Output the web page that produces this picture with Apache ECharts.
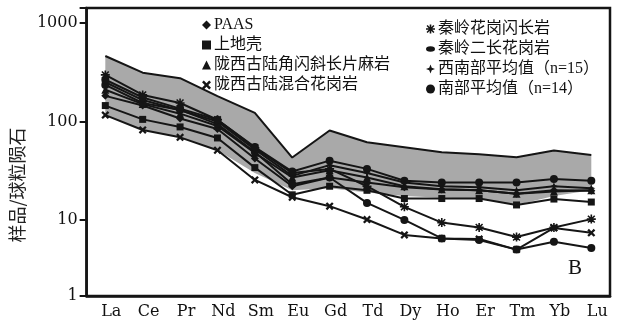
<!DOCTYPE html>
<html>
<head>
<meta charset="utf-8">
<script src="https://cdn.jsdelivr.net/npm/echarts@6/dist/echarts.min.js"></script>
<style>html,body{margin:0;padding:0;background:#fff;}#c{width:631px;height:326px;}</style>
</head>
<body>
<div id="c"></div>
<script>
const categories = ['La','Ce','Pr','Nd','Sm','Eu','Gd','Td','Dy','Ho','Er','Tm','Yb','Lu'];
const yTickLabels = ['1','10','100','1000'];
const paas         = [182,145,107,84,42,22,27,24,21.5,20.4,20,18.5,20,19.8];
const upperCrust   = [145,105,88,68,34,18,22,20,16.5,16.5,16.5,14.2,16.3,15.2];
const gneiss       = [210,150,120,90,48,27,32,27,22,20.5,20,18.5,19.5,20];
const migmatite    = [116,82,69,51,25.5,17,13.8,10.1,7.05,6.5,6.4,5,8.3,7.4];
const granodiorite = [297,186,154,104,54,30,33,22,13.6,9.4,8.4,6.7,8.4,10.2];
const monzogranite = [235,154,131,94,49,23,27,14.9,10,6.5,6.26,5,6,5.2];
const swMean       = [250,165,130,100,52,28,36,30,24,22,21.5,20,22,21];
const sMean        = [265,175,135,104,55,31,40,33,25,24,24,24,26,25];
const bandUpper    = [462,313,275,181,122,43,81,61.5,54.7,48.7,46.4,43.3,50.6,45.7];
const bandLower    = [116,82,69,51,30,20,21,19,17.5,16.8,16.5,14.2,17.5,20];

const X_PATH = 'path://M0,2 L2,0 L5,3 L8,0 L10,2 L7,5 L10,8 L8,10 L5,7 L2,10 L0,8 L3,5 Z';
const AST_PATH = 'path://M4.1,0 L5.9,0 L5.9,4.1 L10,4.1 L10,5.9 L5.9,5.9 L5.9,10 L4.1,10 L4.1,5.9 L0,5.9 L0,4.1 L4.1,4.1 Z M0.6,1.8 L1.8,0.6 L5,3.8 L8.2,0.6 L9.4,1.8 L6.2,5 L9.4,8.2 L8.2,9.4 L5,6.2 L1.8,9.4 L0.6,8.2 L3.8,5 Z';
const STAR4_PATH = 'path://M5,0 L6.4,3.6 L10,5 L6.4,6.4 L5,10 L3.6,6.4 L0,5 L3.6,3.6 Z';
const ELL_PATH = 'path://M0,3 A5,3 0 1,0 10,3 A5,3 0 1,0 0,3 Z';

const INK = '#151515';
const FONT = "'Liberation Serif','Noto Sans CJK SC',serif";

const defs = [
  {name:'PAAS', data:paas, symbol:'diamond', size:8},
  {name:'上地壳', data:upperCrust, symbol:'rect', size:7},
  {name:'陇西古陆角闪斜长片麻岩', data:gneiss, symbol:'triangle', size:8},
  {name:'陇西古陆混合花岗岩', data:migmatite, symbol:X_PATH, size:8},
  {name:'秦岭花岗闪长岩', data:granodiorite, symbol:AST_PATH, size:9},
  {name:'秦岭二长花岗岩', data:monzogranite, symbol:'circle', size:8},
  {name:'西南部平均值（n=15）', data:swMean, symbol:STAR4_PATH, size:8},
  {name:'南部平均值（n=14）', data:sMean, symbol:'circle', size:8}
];

const series = [
  {name:'band_lower', type:'line', stack:'band', data:bandLower, symbol:'none',
   lineStyle:{width:0, opacity:0}, silent:true, z:1},
  {name:'band', type:'line', stack:'band', data:bandUpper.map((v,i)=>v-bandLower[i]), symbol:'none',
   lineStyle:{color:INK, width:2}, areaStyle:{color:'#a9a9a9', opacity:1}, silent:true, z:1}
];
defs.forEach(d => series.push({
  name:d.name, type:'line', data:d.data, symbol:d.symbol, symbolSize:d.size,
  lineStyle:{color:INK, width:2}, itemStyle:{color:INK}, z:3
}));

const legendIcon = {'PAAS':'diamond','上地壳':'rect','陇西古陆角闪斜长片麻岩':'triangle','陇西古陆混合花岗岩':X_PATH,
  '秦岭花岗闪长岩':AST_PATH,'秦岭二长花岗岩':ELL_PATH,'西南部平均值（n=15）':STAR4_PATH,'南部平均值（n=14）':'circle'};
function legendData(names){ return names.map(n => ({name:n, icon:legendIcon[n]})); }

const legendCommon = {
  orient:'vertical', itemGap:4, itemWidth:9, itemHeight:9, selectedMode:false,
  textStyle:{fontSize:16, color:'#111', fontFamily:FONT, padding:[0,0,0,-2]}
};

const chart = echarts.init(document.getElementById('c'), null, {renderer:'canvas'});
chart.setOption({
  animation:false,
  backgroundColor:'#fff',
  grid:{left:73, right:21, top:8, bottom:30, show:true, borderColor:INK, borderWidth:2.5, backgroundColor:'transparent'},
  legend:[
    Object.assign({left:197, top:12, data:legendData(defs.slice(0,4).map(d=>d.name))}, legendCommon),
    Object.assign({left:421, top:16, data:legendData(defs.slice(4).map(d=>d.name))}, legendCommon)
  ],
  xAxis:{
    type:'category', data:categories, boundaryGap:true,
    axisLine:{lineStyle:{color:INK, width:2.5}},
    axisTick:{inside:true, length:6, lineStyle:{color:INK, width:2}},
    axisLabel:{color:'#111', fontSize:16, fontFamily:"'DejaVu Serif',serif", margin:8, padding:[0,0,0,12]},
    splitLine:{show:false}
  },
  yAxis:{
    type:'log', logBase:10, min:1.69, max:1419,
    name:'样品/球粒陨石', nameLocation:'middle', nameGap:41, nameRotate:90,
    nameTextStyle:{fontSize:18, color:'#222', fontFamily:"'Noto Sans CJK SC',sans-serif", padding:[0,66,0,0]},
    axisLine:{show:true, lineStyle:{color:INK, width:2.5}},
    axisTick:{show:true, inside:false, length:7, lineStyle:{color:INK, width:2}},
    minorTick:{show:false},
    splitLine:{show:false},
    axisLabel:{color:'#111', fontSize:16, fontFamily:"'DejaVu Serif',serif", margin:9,
      showMinLabel:true, showMaxLabel:true,
      formatter:function(v){
        if (v < 2) return yTickLabels[0];
        if (v > 1100) return '';
        const k = Math.round(Math.log10(v));
        return yTickLabels[k] || '';
      }}
  },
  graphic:[{type:'text', style:{text:'B', x:575, y:268, align:'center', verticalAlign:'middle',
    font:"21px 'Liberation Serif', serif", fill:'#111'}}],
  series:series
});
</script>
</body>
</html>
